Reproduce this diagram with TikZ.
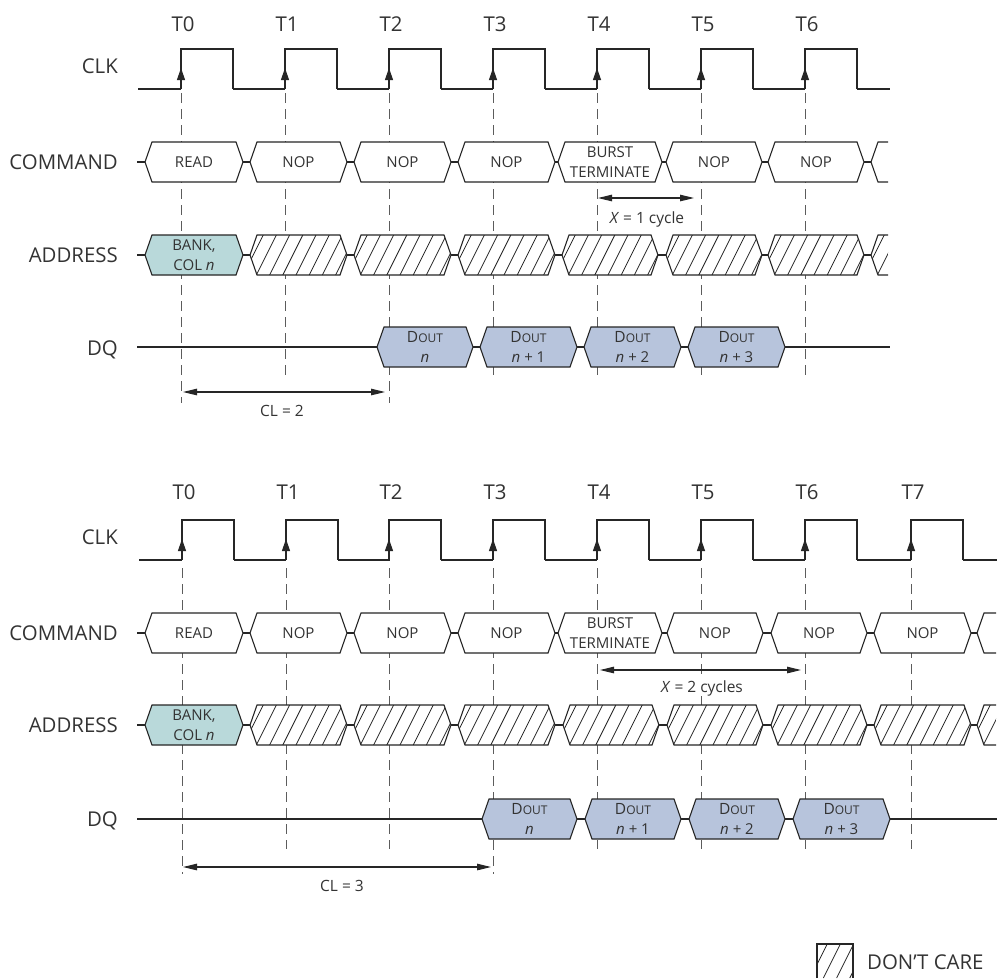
\documentclass[tikz,border=0pt]{standalone}
\usepackage{fontspec}
\setmainfont{Open Sans}
\usetikzlibrary{arrows.meta}
\definecolor{ink}{HTML}{262626}
\definecolor{txt}{HTML}{333333}
\definecolor{tealfill}{HTML}{B9D9DA}
\definecolor{bluefill}{HTML}{B7C4DC}
\newcommand{\Dout}{{\fontsize{15.5}{19}\selectfont D\fontsize{12}{19}\selectfont OUT}}
\newcommand{\nvar}{\textit{n}}
% name, left tip, right tip, centre y, fill, text
\newcommand{\hexbox}[6]{%
  \coordinate (#1-l) at (#2,#4);
  \coordinate (#1-r) at (#3,#4);
  \draw[hexline,fill=#5] (#2,#4) -- (#2+7,#4-20) -- (#3-7,#4-20) -- (#3,#4) -- (#3-7,#4+20) -- (#2+7,#4+20) -- cycle;
  \node[small] (#1) at ({(#2+#3)/2},#4) {#6};
}
% name, left tip, right tip, centre y : hatched
\newcommand{\hatchbox}[4]{%
  \coordinate (#1-l) at (#2,#4);
  \coordinate (#1-r) at (#3,#4);
  \fill[white] (#2,#4) -- (#2+7,#4-20) -- (#3-7,#4-20) -- (#3,#4) -- (#3-7,#4+20) -- (#2+7,#4+20) -- cycle;
  \begin{scope}
    \clip (#2,#4) -- (#2+7,#4-20) -- (#3-7,#4-20) -- (#3,#4) -- (#3-7,#4+20) -- (#2+7,#4+20) -- cycle;
    \foreach \k in {0,...,10} \draw[hatchline] ({#2-20+13.2*\k},#4+20) -- ++(20,-40);
  \end{scope}
  \draw[hexline] (#2,#4) -- (#2+7,#4-20) -- (#3-7,#4-20) -- (#3,#4) -- (#3-7,#4+20) -- (#2+7,#4+20) -- cycle;
}
% name, left tip, cut x, centre y, hatched lines (0/1)
\newcommand{\openhex}[5]{%
  \coordinate (#1-l) at (#2,#4);
  \fill[white] (#2,#4) -- (#2+7,#4-20) -- (#3,#4-20) -- (#3,#4+20) -- (#2+7,#4+20) -- cycle;
  \ifnum#5=1
  \begin{scope}
    \clip (#2,#4) -- (#2+7,#4-20) -- (#3,#4-20) -- (#3,#4+20) -- (#2+7,#4+20) -- cycle;
    \foreach \k in {0,...,3} \draw[hatchline] ({#2-20+13.2*\k},#4+20) -- ++(20,-40);
  \end{scope}
  \fi
  \draw[hexline] (#3,#4-20) -- (#2+7,#4-20) -- (#2,#4) -- (#2+7,#4+20) -- (#3,#4+20);
}
% clock pulse: rising x, low y, high y
\newcommand{\pulse}[3]{%
  \draw[clkline,line join=miter] (#1,#2) -- (#1,#3) -- (#1+52,#3) -- (#1+52,#2);
  \draw[clkarrow] (#1,#2) -- (#1,#2-21);
}
\tikzset{
  x=1pt,y=-1pt,
  hexline/.style={draw=ink,line width=1.1pt,line join=miter},
  hatchline/.style={draw=ink,line width=0.8pt},
  wire/.style={draw=ink,line width=1.1pt},
  clkline/.style={draw=ink,line width=1.2pt},
  clkarrow/.style={draw=ink,line width=1.2pt,-{Triangle[length=12pt,width=8pt]}},
  guide/.style={draw=ink!75,line width=0.9pt,dash pattern=on 9.5pt off 6.5pt},
  span/.style={draw=ink,line width=1.1pt,{Triangle[length=14pt,width=6.5pt]}-{Triangle[length=14pt,width=6.5pt]}},
  big/.style={inner sep=0pt,text=txt,anchor=base,font=\fontsize{20.4}{24}\selectfont},
  rlabel/.style={big,anchor=base east},
  small/.style={inner sep=0pt,text=txt,align=center,font=\fontsize{15}{19.5}\selectfont},
  note/.style={small,font=\fontsize{15.5}{19.5}\selectfont},
}
\begin{document}
\begin{tikzpicture}
\useasboundingbox (0,0) rectangle (998,978);
\fill[white] (0,0) rectangle (998,978);
%%%%%%%%%%%%%%%% TOP PANEL
\foreach \i/\x/\e in {0/181/403,1/285/378,2/389/403,3/493/378,4/597/378,5/701/378,6/805/378}{
  \coordinate (a\i s) at (\x,93);
  \coordinate (a\i e) at (\x,\e);
  \draw[guide] (a\i s) -- (a\i e);
  \node[big] (aT\i) at (\x+2,31.5) {T\i};
}
\node[rlabel] (aclk) at (118,73) {CLK};
\node[rlabel] (acmd) at (118,169) {COMMAND};
\node[rlabel] (aadr) at (118,262) {ADDRESS};
\node[rlabel] (adq) at (118,355) {DQ};
\draw[clkline] (138,89) -- (181,89);
\foreach \x in {181,285,389,493,597,701,805} \pulse{\x}{89}{49};
\foreach \x in {233,337,441,545,649,753} \draw[clkline] (\x,89) -- (\x+52,89);
\draw[clkline] (857,89) -- (890,89);
% command
\coordinate (ac0) at (137,162);
\hexbox{ac1}{145}{243}{162}{white}{READ}
\hexbox{ac2}{250}{347}{162}{white}{NOP}
\hexbox{ac3}{354}{451}{162}{white}{NOP}
\hexbox{ac4}{458}{555}{162}{white}{NOP}
\hexbox{ac5}{558}{662}{162}{white}{BURST\\TERMINATE}
\hexbox{ac6}{666}{762}{162}{white}{NOP}
\hexbox{ac7}{768}{864}{162}{white}{NOP}
\openhex{ac8}{871}{888}{162}{0}
\draw[wire] (ac0) -- (ac1-l) (ac1-r) -- (ac2-l) (ac2-r) -- (ac3-l) (ac3-r) -- (ac4-l) (ac4-r) -- (ac5-l) (ac5-r) -- (ac6-l) (ac6-r) -- (ac7-l) (ac7-r) -- (ac8-l);
% address
\coordinate (ab0) at (137,255);
\hexbox{ab1}{145}{243}{255}{tealfill}{BANK,\\COL \nvar}
\hatchbox{ab2}{250}{347}{255}
\hatchbox{ab3}{354}{451}{255}
\hatchbox{ab4}{458}{555}{255}
\hatchbox{ab5}{562}{658}{255}
\hatchbox{ab6}{666}{762}{255}
\hatchbox{ab7}{768}{864}{255}
\openhex{ab8}{871}{888}{255}{1}
\draw[wire] (ab0) -- (ab1-l) (ab1-r) -- (ab2-l) (ab2-r) -- (ab3-l) (ab3-r) -- (ab4-l) (ab4-r) -- (ab5-l) (ab5-r) -- (ab6-l) (ab6-r) -- (ab7-l) (ab7-r) -- (ab8-l);
% dq
\coordinate (ad0) at (137,347);
\coordinate (ad9) at (890,347);
\hexbox{ad1}{377}{473}{347}{bluefill}{\Dout\\\nvar}
\hexbox{ad2}{480}{577}{347}{bluefill}{\Dout\\\nvar{} + 1}
\hexbox{ad3}{584}{681}{347}{bluefill}{\Dout\\\nvar{} + 2}
\hexbox{ad4}{688}{785}{347}{bluefill}{\Dout\\\nvar{} + 3}
\draw[wire] (ad0) -- (ad1-l) (ad1-r) -- (ad2-l) (ad2-r) -- (ad3-l) (ad3-r) -- (ad4-l) (ad4-r) -- (ad9);
% spans
\coordinate (ax1) at (598,198);
\coordinate (ax2) at (694,198);
\draw[span] (ax1) -- (ax2);
\node[note] (axt) at (647,219) {\textit{X} = 1 cycle};
\coordinate (acl1) at (183,392);
\coordinate (acl2) at (385,392);
\draw[span] (acl1) -- (acl2);
\node[note] (aclt) at (282,411) {CL = 2};
%%%%%%%%%%%%%%%% BOTTOM PANEL
\foreach \i/\x/\e in {0/182/874,1/286/849,2/389/849,3/493/874,4/597/849,5/701/849,6/805/849,7/911/849}{
  \coordinate (b\i s) at (\x,568);
  \coordinate (b\i e) at (\x,\e);
  \draw[guide] (b\i s) -- (b\i e);
  \node[big] (bT\i) at (\x+2,499.5) {T\i};
}
\node[rlabel] (bclk) at (118,544) {CLK};
\node[rlabel] (bcmd) at (118,640) {COMMAND};
\node[rlabel] (badr) at (118,732) {ADDRESS};
\node[rlabel] (bdq) at (118,826) {DQ};
\draw[clkline] (139,560) -- (182,560);
\foreach \x in {182,286,389,493,597,701,805,911} \pulse{\x}{560}{520};
\foreach \x in {234,338,441,545,649,753} \draw[clkline] (\x,560) -- (\x+52,560);
\draw[clkline] (857,560) -- (911,560);
\draw[clkline] (963,560) -- (997,560);
% command
\coordinate (bc0) at (137,633);
\hexbox{bc1}{145}{243}{633}{white}{READ}
\hexbox{bc2}{250}{347}{633}{white}{NOP}
\hexbox{bc3}{354}{451}{633}{white}{NOP}
\hexbox{bc4}{458}{555}{633}{white}{NOP}
\hexbox{bc5}{558}{662}{633}{white}{BURST\\TERMINATE}
\hexbox{bc6}{667}{763}{633}{white}{NOP}
\hexbox{bc7}{771}{867}{633}{white}{NOP}
\hexbox{bc8}{874}{971}{633}{white}{NOP}
\openhex{bc9}{977}{996}{633}{0}
\draw[wire] (bc0) -- (bc1-l) (bc1-r) -- (bc2-l) (bc2-r) -- (bc3-l) (bc3-r) -- (bc4-l) (bc4-r) -- (bc5-l) (bc5-r) -- (bc6-l) (bc6-r) -- (bc7-l) (bc7-r) -- (bc8-l) (bc8-r) -- (bc9-l);
% address
\coordinate (bb0) at (137,725);
\hexbox{bb1}{145}{243}{725}{tealfill}{BANK,\\COL \nvar}
\hatchbox{bb2}{250}{347}{725}
\hatchbox{bb3}{354}{451}{725}
\hatchbox{bb4}{458}{555}{725}
\hatchbox{bb5}{563}{659}{725}
\hatchbox{bb6}{667}{763}{725}
\hatchbox{bb7}{771}{867}{725}
\hatchbox{bb8}{874}{971}{725}
\openhex{bb9}{977}{996}{725}{1}
\draw[wire] (bb0) -- (bb1-l) (bb1-r) -- (bb2-l) (bb2-r) -- (bb3-l) (bb3-r) -- (bb4-l) (bb4-r) -- (bb5-l) (bb5-r) -- (bb6-l) (bb6-r) -- (bb7-l) (bb7-r) -- (bb8-l) (bb8-r) -- (bb9-l);
% dq
\coordinate (bd0) at (137,819);
\coordinate (bd9) at (997,819);
\hexbox{bd1}{482}{577}{819}{bluefill}{\Dout\\\nvar}
\hexbox{bd2}{585}{681}{819}{bluefill}{\Dout\\\nvar{} + 1}
\hexbox{bd3}{689}{785}{819}{bluefill}{\Dout\\\nvar{} + 2}
\hexbox{bd4}{793}{890}{819}{bluefill}{\Dout\\\nvar{} + 3}
\draw[wire] (bd0) -- (bd1-l) (bd1-r) -- (bd2-l) (bd2-r) -- (bd3-l) (bd3-r) -- (bd4-l) (bd4-r) -- (bd9);
% spans
\coordinate (bx1) at (600,670);
\coordinate (bx2) at (801,670);
\draw[span] (bx1) -- (bx2);
\node[note,fill=white] (bxt) at (702,688) {\textit{X} = 2 cycles};
\coordinate (bcl1) at (183,867);
\coordinate (bcl2) at (491,867);
\draw[span] (bcl1) -- (bcl2);
\node[note] (bclt) at (342,886) {CL = 3};
%%%%%%%%%%%%%%%% LEGEND
\begin{scope}
  \clip (817,944) rectangle (853,978);
  \foreach \k in {0,...,4} \draw[hatchline] ({797+13.2*\k},978) -- ++(17,-34);
\end{scope}
\draw[hexline] (817,978) -- (817,944) -- (853,944) -- (853,978);
\node[big,anchor=base west] (dc) at (867,969) {DON’T CARE};
\end{tikzpicture}
\end{document}
